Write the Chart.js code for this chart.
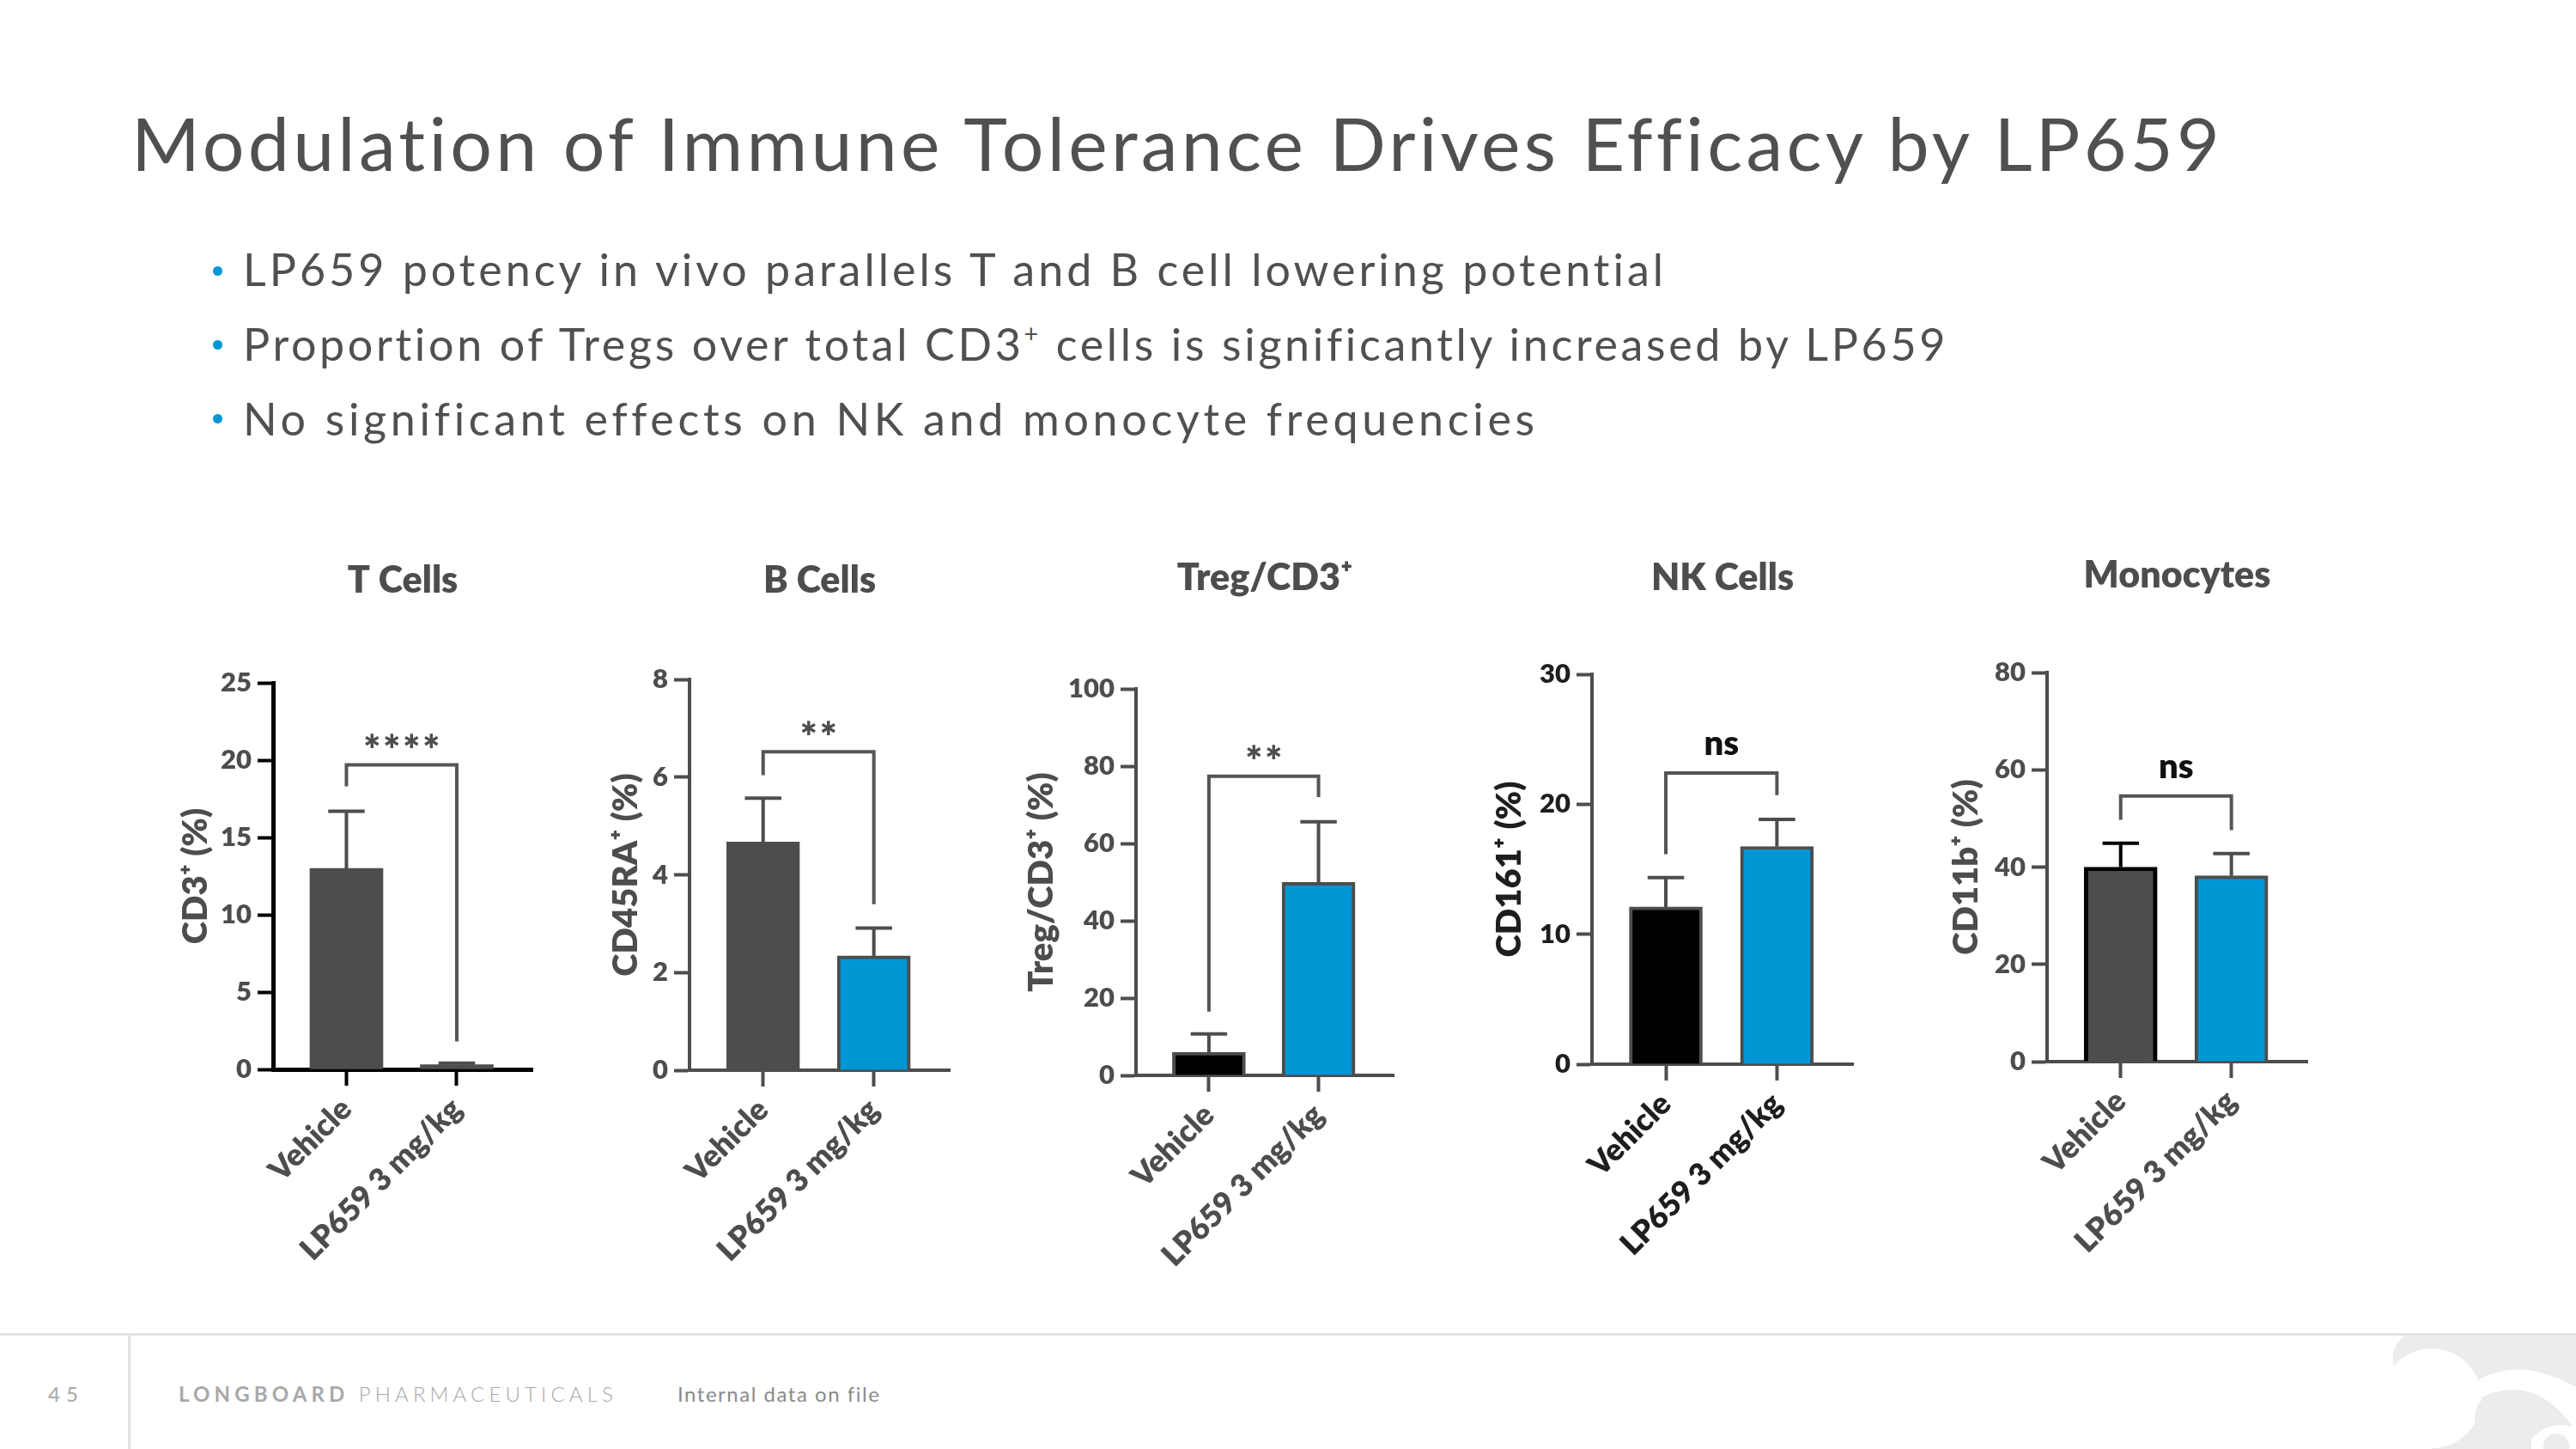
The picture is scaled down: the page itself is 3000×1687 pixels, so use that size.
<!DOCTYPE html>
<html><head><meta charset="utf-8">
<script src="https://cdn.jsdelivr.net/npm/chart.js@4.4.1/dist/chart.umd.min.js"></script>
<style>
html,body{margin:0;padding:0;background:#fff;}
body{width:3000px;height:1687px;position:relative;overflow:hidden;font-family:Lato,'DejaVu Sans',sans-serif;}
.abs{position:absolute;white-space:nowrap;}
#title{left:153px;top:123px;font-size:86px;line-height:86px;color:#505050;font-weight:400;}
.bullet{left:283px;font-size:52px;line-height:52px;color:#505050;font-weight:400;}
.bullet sup{font-size:0.55em;line-height:0;vertical-align:0.75em;}
.dot{position:absolute;width:11px;height:11px;border-radius:50%;background:#0096d6;}
canvas{position:absolute;}
#hline{position:absolute;left:0;top:1552px;width:3000px;height:3px;background:#e3e3e3;}
#vline{position:absolute;left:149px;top:1553px;width:3px;height:134px;background:#e3e3e3;}
.foot{font-size:24px;line-height:24px;color:#a8a8a8;}
</style></head>
<body>
<div id="title" class="abs" data-w="2433">Modulation of Immune Tolerance Drives Efficacy by LP659</div>
<div class="dot" style="left:248px;top:310px"></div>
<div class="dot" style="left:248px;top:396px"></div>
<div class="dot" style="left:248px;top:482px"></div>
<div class="abs bullet" style="top:287px" data-w="1659">LP659 potency in vivo parallels T and B cell lowering potential</div>
<div class="abs bullet" style="top:374px" data-w="1986">Proportion of Tregs over total CD3<sup>+</sup> cells is significantly increased by LP659</div>
<div class="abs bullet" style="top:461px" data-w="1506">No significant effects on NK and monocyte frequencies</div>

<div id="hline"></div><div id="vline"></div>
<div class="abs foot" style="left:56px;top:1611px;letter-spacing:7px">45</div>
<div class="abs foot" style="left:208px;top:1611px" data-w="511"><b style="font-weight:700">LONGBOARD</b> <span style="font-weight:300">PHARMACEUTICALS</span></div>
<div class="abs foot" style="left:789px;top:1611px;color:#8a8a8a" data-w="236">Internal data on file</div>
<svg class="abs" style="left:2700px;top:1555px" width="300" height="132" viewBox="0 0 300 132">
  <path d="M100 0 L300 0 L300 132 L132 132 L132 73 L90 40 Q80 18 100 0 Z" fill="#ececec"/>
  <circle cx="132" cy="73" r="58" fill="#fff"/>
  <path d="M172 62 Q225 18 300 60 L300 112 Q255 42 190 72 Z" fill="#fff"/>
  <circle cx="213" cy="96" r="31" fill="#ececec"/>
  <path d="M248 120 Q272 96 300 108 L300 132 L248 132 Z" fill="#fff"/>
  <circle cx="277" cy="129" r="15" fill="#ececec"/>
</svg>

<canvas id="c0"></canvas><canvas id="c1"></canvas><canvas id="c2"></canvas><canvas id="c3"></canvas><canvas id="c4"></canvas>

<script>
// ---------------- DATA ----------------
const panelTitles   = ['T Cells', 'B Cells', 'Treg/CD3\u207A', 'NK Cells', 'Monocytes'];
const groups        = ['Vehicle', 'LP659 3 mg/kg'];
const yAxisTitles   = ['CD3\u207A (%)', 'CD45RA\u207A (%)', 'Treg/CD3\u207A (%)', 'CD161\u207A (%)', 'CD11b\u207A (%)'];
const vehicleMean   = [13.0, 4.67, 6.0, 12.1, 40.0];
const vehicleErr    = [3.7, 0.90, 4.7, 2.26, 4.9];
const lp659Mean     = [0.3, 2.34, 49.9, 16.75, 38.2];
const lp659Err      = [0.1, 0.57, 15.7, 2.08, 4.6];
const significance  = ['****', '**', '**', 'ns', 'ns'];
const bracketTop    = [19.7, 6.52, 77.4, 22.4, 54.6];
const bracketLeftEnd  = [18.3, 6.04, 16.5, 16.15, 49.7];
const bracketRightEnd = [1.8, 3.40, 72.0, 20.7, 47.6];
const yMax          = [25, 8, 100, 30, 80];
const yStep         = [5, 2, 20, 10, 20];

// ---------------- LAYOUT / STYLE ----------------
const CANVAS_TOP = 600, CANVAS_H = 900, PAD_R = 30;
const geom = [
  {left:318,  right:620,  top:795, bottom:1245, yw:114, titleBase:690},
  {left:803,  right:1106, top:791, bottom:1246, yw:98,  titleBase:690},
  {left:1323, right:1623, top:802, bottom:1252, yw:134, titleBase:687},
  {left:1854, right:2158, top:785, bottom:1239, yw:120, titleBase:687},
  {left:2384, right:2687, top:783, bottom:1236, yw:118, titleBase:684}
];
const style = [
  {axis:'#000',    axisW:5, text:'#4d4d4d', fill:['#4d4d4d','#4d4d4d'], border:['#4d4d4d','#4d4d4d'], bw:[0,0], err:['#4d4d4d','#4d4d4d']},
  {axis:'#4d4d4d', axisW:4, text:'#4d4d4d', fill:['#4d4d4d','#0096d6'], border:['#4d4d4d','#4d4d4d'], bw:[4,4], err:['#4d4d4d','#4d4d4d']},
  {axis:'#4d4d4d', axisW:4, text:'#4d4d4d', fill:['#000000','#0096d6'], border:['#4d4d4d','#4d4d4d'], bw:[4,4], err:['#4d4d4d','#4d4d4d']},
  {axis:'#4d4d4d', axisW:4, text:'#1e1e1e', fill:['#000000','#0096d6'], border:['#4d4d4d','#4d4d4d'], bw:[4,4], err:['#4d4d4d','#4d4d4d']},
  {axis:'#4d4d4d', axisW:4, text:'#4d4d4d', fill:['#4d4d4d','#0096d6'], border:['#000000','#4d4d4d'], bw:[5,4], err:['#000000','#4d4d4d']}
];
const FONT = "Lato, 'DejaVu Sans', sans-serif";
const W_BOLD = '800';
Chart.defaults.font.family = FONT;

function sizeFor(ctx, glyph, weight, targetH){
  ctx.font = weight + ' 100px ' + FONT;
  const m = ctx.measureText(glyph);
  const h = m.actualBoundingBoxAscent + m.actualBoundingBoxDescent;
  return 100 * targetH / h;
}

const annotPlugin = {
  id: 'annot',
  afterDatasetsDraw(chart, args, opts) {
    const i = opts.index, st = style[i];
    const {ctx, chartArea} = chart;
    const y = chart.scales.y;
    const meta = chart.getDatasetMeta(0);
    const means = [vehicleMean[i], lp659Mean[i]];
    const errs = [vehicleErr[i], lp659Err[i]];
    ctx.save();
    // error bars (upper only)
    meta.data.forEach((bar, k) => {
      const x = bar.x;
      const y0 = y.getPixelForValue(means[k]);
      const y1 = y.getPixelForValue(means[k] + errs[k]);
      const hw = bar.width * 0.25;
      ctx.strokeStyle = st.err[k]; ctx.lineWidth = 4; ctx.lineCap = 'butt';
      ctx.beginPath();
      ctx.moveTo(x, y0); ctx.lineTo(x, y1);
      ctx.moveTo(x - hw, y1); ctx.lineTo(x + hw, y1);
      ctx.stroke();
    });
    // significance bracket
    const x1 = meta.data[0].x, x2 = meta.data[1].x;
    const yb = y.getPixelForValue(bracketTop[i]);
    ctx.strokeStyle = '#555555'; ctx.lineWidth = 4; ctx.lineJoin = 'miter';
    ctx.beginPath();
    ctx.moveTo(x1, y.getPixelForValue(bracketLeftEnd[i]));
    ctx.lineTo(x1, yb); ctx.lineTo(x2, yb);
    ctx.lineTo(x2, y.getPixelForValue(bracketRightEnd[i]));
    ctx.stroke();
    const xm = (x1 + x2) / 2;
    const sig = significance[i];
    ctx.textAlign = 'center'; ctx.textBaseline = 'alphabetic';
    if (sig === 'ns') {
      ctx.fillStyle = '#111111';
      ctx.font = W_BOLD + ' 40px ' + FONT;
      ctx.fillText(sig, xm, yb - 21);
    } else {
      const fs = sizeFor(ctx, '*', W_BOLD, 17);
      ctx.font = W_BOLD + ' ' + fs + 'px ' + FONT;
      const m = ctx.measureText('*');
      const base = (yb - 28) + (m.actualBoundingBoxAscent - m.actualBoundingBoxDescent) / 2;
      ctx.fillStyle = '#4d4d4d';
      const n = sig.length, sp = 23;
      for (let s = 0; s < n; s++) ctx.fillText('*', xm + (s - (n - 1) / 2) * sp, base);
    }
    // panel title
    ctx.fillStyle = '#4d4d4d';
    ctx.font = W_BOLD + ' 43px ' + FONT;
    ctx.fillText(panelTitles[i], (chartArea.left + chartArea.right) / 2, opts.titleBase - CANVAS_TOP);
    ctx.restore();
  }
};

geom.forEach((g, i) => {
  const st = style[i];
  const cv = document.getElementById('c' + i);
  const W = g.yw + (g.right - g.left) + PAD_R;
  cv.width = W; cv.height = CANVAS_H;
  cv.style.left = (g.left - g.yw) + 'px';
  cv.style.top = CANVAS_TOP + 'px';
  cv.style.width = W + 'px'; cv.style.height = CANVAS_H + 'px';
  new Chart(cv, {
    type: 'bar',
    data: {
      datasets: [{
        data: [{x: 1, y: vehicleMean[i]}, {x: 2, y: lp659Mean[i]}],
        backgroundColor: st.fill,
        borderColor: st.border,
        borderWidth: st.bw,
        barThickness: 85
      }]
    },
    options: {
      responsive: false, animation: false, devicePixelRatio: 1,
      layout: {padding: {top: g.top - CANVAS_TOP, right: PAD_R, left: 0, bottom: 0}},
      plugins: {legend: {display: false}, tooltip: {enabled: false}, title: {display: false},
                annot: {index: i, titleBase: g.titleBase}},
      scales: {
        x: {
          type: 'linear', min: 0.335, max: 2.685, offset: false,
          afterBuildTicks: s => { s.ticks = groups.map((_, k) => ({value: k + 1})); },
          afterFit: s => { s.height = CANVAS_TOP + CANVAS_H - g.bottom; },
          ticks: {autoSkip: false, minRotation: 45, maxRotation: 45, padding: 6,
                  callback: v => groups[v - 1], color: st.text, font: {size: 36, weight: W_BOLD}},
          grid: {offset: false, drawOnChartArea: false, drawTicks: true, tickLength: 19, tickWidth: 4, color: st.axis},
          border: {display: true, width: st.axisW, color: st.axis}
        },
        y: {
          min: 0, max: yMax[i],
          afterFit: s => { s.width = g.yw; },
          ticks: {stepSize: yStep[i], padding: 7, color: st.text, font: {size: 31, weight: W_BOLD}},
          grid: {drawOnChartArea: false, drawTicks: true, tickLength: 18, tickWidth: 4, color: st.axis},
          border: {display: true, width: st.axisW, color: st.axis},
          title: {display: true, text: yAxisTitles[i], padding: 0, color: st.text, font: {size: 40, weight: W_BOLD}}
        }
      }
    },
    plugins: [annotPlugin]
  });
});

// fit slide text widths
document.querySelectorAll('[data-w]').forEach(el => {
  el.style.letterSpacing = '0px';
  const w = el.getBoundingClientRect().width;
  const n = el.textContent.length;
  el.style.letterSpacing = ((+el.dataset.w - w) / n) + 'px';
});
</script>
</body></html>
